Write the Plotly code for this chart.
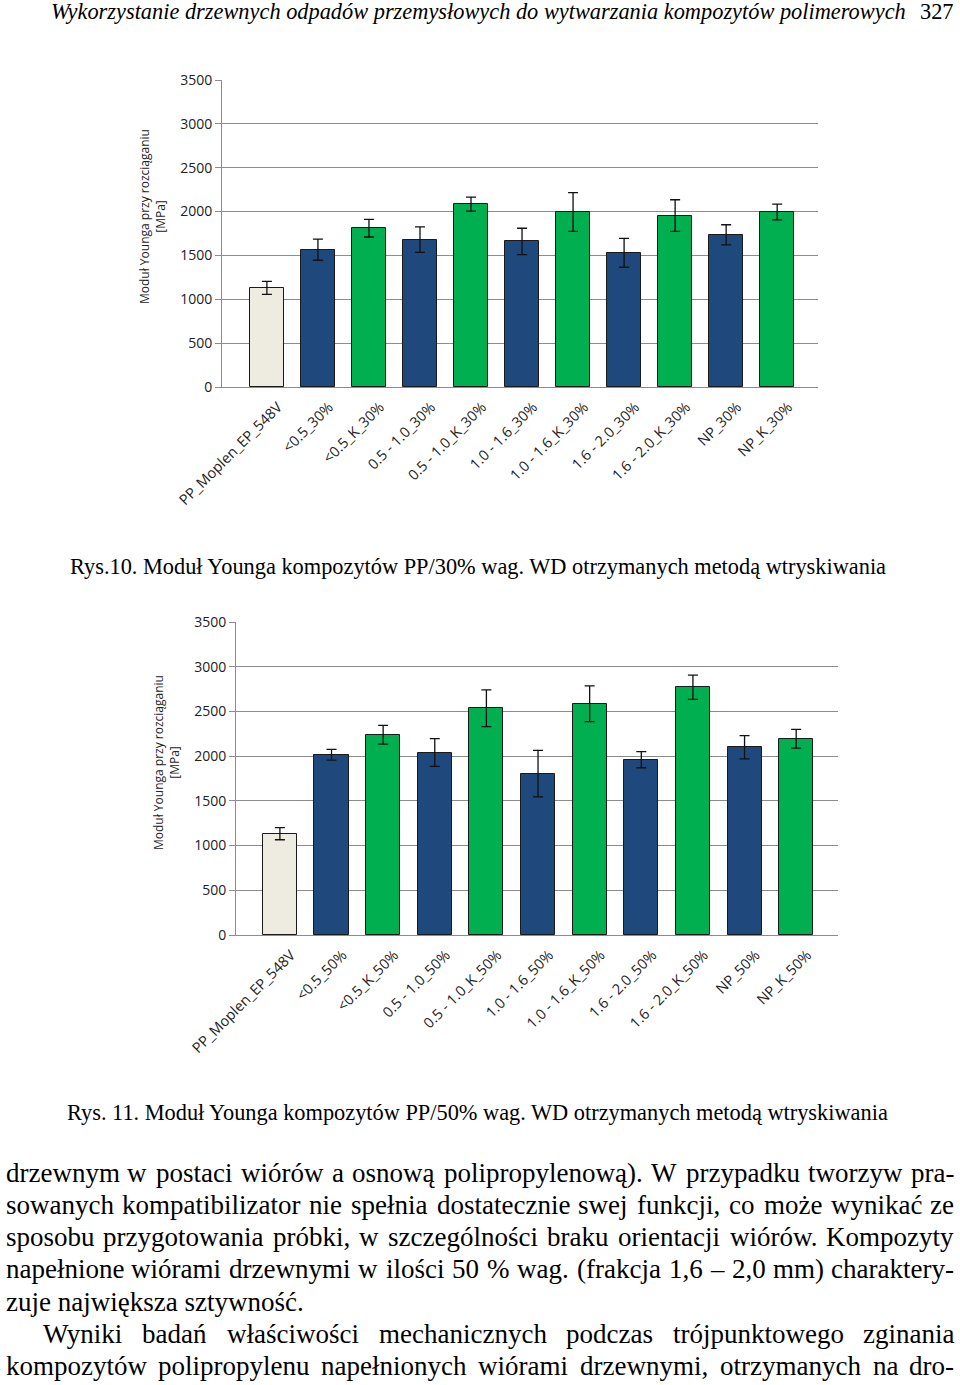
import plotly.graph_objects as go

W, H = 960, 1385

# ---------------- data ----------------
categories_30 = ["PP_Moplen_EP_548V", "<0.5_30%", "<0.5_K_30%", "0.5 - 1.0_30%", "0.5 - 1.0_K_30%",
                 "1.0 - 1.6_30%", "1.0 - 1.6_K_30%", "1.6 - 2.0_30%", "1.6 - 2.0_K_30%", "NP_30%", "NP_K_30%"]
values_30 = [1130, 1565, 1810, 1680, 2085, 1660, 1995, 1530, 1955, 1735, 1995]
errors_30 = [75, 120, 100, 145, 80, 150, 220, 165, 180, 115, 90]

categories_50 = ["PP_Moplen_EP_548V", "<0.5_50%", "<0.5_K_50%", "0.5 - 1.0_50%", "0.5 - 1.0_K_50%",
                 "1.0 - 1.6_50%", "1.0 - 1.6_K_50%", "1.6 - 2.0_50%", "1.6 - 2.0_K_50%", "NP_50%", "NP_K_50%"]
values_50 = [1133, 2015, 2240, 2040, 2535, 1805, 2585, 1960, 2770, 2100, 2195]
errors_50 = [68, 60, 105, 155, 205, 260, 200, 90, 135, 130, 105]

y_ticks = [0, 500, 1000, 1500, 2000, 2500, 3000, 3500]

C_BASE = "#EEECE1"
C_BLUE = "#1F497D"
C_GREEN = "#00B050"
GRID = "#8C8C8C"


def bar_colors(n):
    return [C_BASE] + [C_BLUE if i % 2 == 1 else C_GREEN for i in range(1, n)]


fig = go.Figure()
for vals, errs, cats, xa, ya in [(values_30, errors_30, categories_30, "x", "y"),
                                  (values_50, errors_50, categories_50, "x2", "y2")]:
    fig.add_trace(go.Bar(
        x=list(range(len(cats))), y=vals, width=0.66,
        marker=dict(color=bar_colors(len(cats)), line=dict(color="#1a1a1a", width=1)),
        error_y=dict(type="data", array=errs, visible=True, color="#111111", thickness=1.3, width=5),
        xaxis=xa, yaxis=ya, showlegend=False, hoverinfo="skip"))


def px_x(p):
    return p / W


def px_y(p):
    return 1 - p / H


xtickfont = dict(family="Open Sans", size=14.5, color="#222222")
ytickfont = dict(family="Open Sans", size=14, color="#222222")
common_x = dict(tickvals=list(range(11)), tickangle=-45, showgrid=False, zeroline=False,
                showline=True, linecolor=GRID, linewidth=1, tickfont=xtickfont, ticks="",
                ticklabelshift=11, ticklabelstandoff=5, automargin=False)
common_y = dict(range=[0, 3500], tickvals=y_ticks, showgrid=True, gridcolor=GRID, gridwidth=1,
                zeroline=False, showline=True, linecolor=GRID, linewidth=1, ticks="outside",
                ticklen=6, tickcolor=GRID, tickfont=ytickfont, automargin=False)

fig.update_layout(
    width=W, height=H, margin=dict(l=0, r=0, t=0, b=0, pad=0, autoexpand=False),
    paper_bgcolor="white", plot_bgcolor="white", bargap=0,
    xaxis=dict(domain=[px_x(222), px_x(818)], range=[-0.88, 10.8],
               ticktext=[c.replace("<", "&lt;") for c in categories_30], anchor="y", **common_x),
    yaxis=dict(domain=[px_y(387), px_y(80)], anchor="x", **common_y),
    xaxis2=dict(domain=[px_x(236), px_x(838)], range=[-0.85, 10.81],
                ticktext=[c.replace("<", "&lt;") for c in categories_50], anchor="y2", **common_x),
    yaxis2=dict(domain=[px_y(935), px_y(622)], anchor="x2", **common_y),
)

annotations = []

# y axis titles
for xc, yc in [(152, 217), (167, 763)]:
    annotations.append(dict(text="Moduł Younga przy rozciąganiu<br>[MPa]", textangle=-90,
                            x=px_x(xc), y=px_y(yc), xref="paper", yref="paper", showarrow=False,
                            xanchor="center", yanchor="middle",
                            font=dict(family="Open Sans", size=12, color="#222222")))

# ---------------- page text ----------------
TW = {' ': 250, '!': 333, '(': 333, ')': 333, ',': 250, '-': 333, '.': 250, '/': 278, '%': 833, '–': 500,
      'A': 722, 'B': 667, 'C': 667, 'D': 722, 'E': 611, 'F': 556, 'G': 722, 'H': 722, 'I': 333, 'J': 389,
      'K': 722, 'L': 611, 'M': 889, 'N': 722, 'O': 722, 'P': 556, 'Q': 722, 'R': 667, 'S': 556, 'T': 611,
      'U': 722, 'V': 722, 'W': 944, 'X': 722, 'Y': 722, 'Z': 611,
      'a': 444, 'b': 500, 'c': 444, 'd': 500, 'e': 444, 'f': 333, 'g': 500, 'h': 500, 'i': 278, 'j': 278,
      'k': 500, 'l': 278, 'm': 778, 'n': 500, 'o': 500, 'p': 500, 'q': 500, 'r': 333, 's': 389, 't': 278,
      'u': 500, 'v': 500, 'w': 722, 'x': 500, 'y': 500, 'z': 444,
      'ą': 444, 'ę': 444, 'ó': 500, 'ł': 278, 'ś': 389, 'ć': 444, 'ż': 444, 'ź': 444, 'ń': 500}
for d in "0123456789":
    TW[d] = 500

TI = {' ': 250, 'W': 833, 'y': 444, 'k': 444, 'o': 500, 'r': 389, 'z': 389, 's': 389, 't': 278, 'a': 500,
      'n': 500, 'i': 278, 'e': 444, 'd': 500, 'w': 667, 'c': 444, 'h': 500, 'p': 500, 'ó': 500, 'ł': 278,
      'm': 722, 'l': 278, 'ą': 500, 'ę': 444}


def width(s, fs, table=TW):
    return sum(table.get(c, 500) for c in s) * fs / 1000.0


SERIF = "Liberation Serif"


def text_ann(s, x, y, fs, anchor="left", italic=False):
    f = dict(family=SERIF, size=fs, color="#000000")
    if italic:
        f["style"] = "italic"
    return dict(text=s, x=px_x(x), y=px_y(y), xref="paper", yref="paper", showarrow=False,
                xanchor=anchor, yanchor="middle", font=f, borderpad=0)


def justify(line, x0, x1, y, fs):
    words = line.split(" ")
    ws = [width(w, fs) for w in words]
    gap = (x1 - x0 - sum(ws)) / (len(words) - 1)
    x = x0
    out = []
    for i, (w, wd) in enumerate(zip(words, ws)):
        if i == 0:
            out.append(text_ann(w, x, y, fs, "left"))
        elif i == len(words) - 1:
            out.append(text_ann(w, x1, y, fs, "right"))
        else:
            out.append(text_ann(w, x + wd / 2, y, fs, "center"))
        x += wd + gap
    return out


# header
header = "Wykorzystanie drzewnych odpadów przemysłowych do wytwarzania kompozytów polimerowych"
fs_h = 858 * 1000.0 / sum(TI.get(c, 500) for c in header)
annotations.append(text_ann(header, 50, 11, fs_h, "left", italic=True))
annotations.append(text_ann("327", 955, 11, fs_h, "right"))

# captions
cap1 = "Rys.10. Moduł Younga kompozytów PP/30% wag. WD otrzymanych metodą wtryskiwania"
cap2 = "Rys. 11. Moduł Younga kompozytów PP/50% wag. WD otrzymanych metodą wtryskiwania"
fs_c = 821 * 1000.0 / sum(TW.get(c, 500) for c in cap1)
annotations.append(text_ann(cap1, 69, 566, fs_c, "left"))
annotations.append(text_ann(cap2, 66, 1112, fs_c, "left"))

# body text
FS = 27
body = [
    ("drzewnym w postaci wiórów a osnową polipropylenową). W przypadku tworzyw pra-", 5, 955, 1173, True),
    ("sowanych kompatibilizator nie spełnia dostatecznie swej funkcji, co może wynikać ze", 5, 955, 1205, True),
    ("sposobu przygotowania próbki, w szczególności braku orientacji wiórów. Kompozyty", 5, 955, 1237, True),
    ("napełnione wiórami drzewnymi w ilości 50 % wag. (frakcja 1,6 – 2,0 mm) charaktery-", 5, 955, 1269, True),
    ("zuje największa sztywność.", 5, 955, 1302, False),
    ("Wyniki badań właściwości mechanicznych podczas trójpunktowego zginania", 42, 955, 1334, True),
    ("kompozytów polipropylenu napełnionych wiórami drzewnymi, otrzymanych na dro-", 5, 955, 1366, True),
]
for line, x0, x1, y, just in body:
    if just:
        annotations.extend(justify(line, x0, x1, y, FS))
    else:
        annotations.append(text_ann(line, x0, y, FS, "left"))

fig.update_layout(annotations=annotations)
fig.write_html("out.html", config={"displayModeBar": False},
               post_script="document.body.style.margin='0';document.body.style.overflow='hidden';")
